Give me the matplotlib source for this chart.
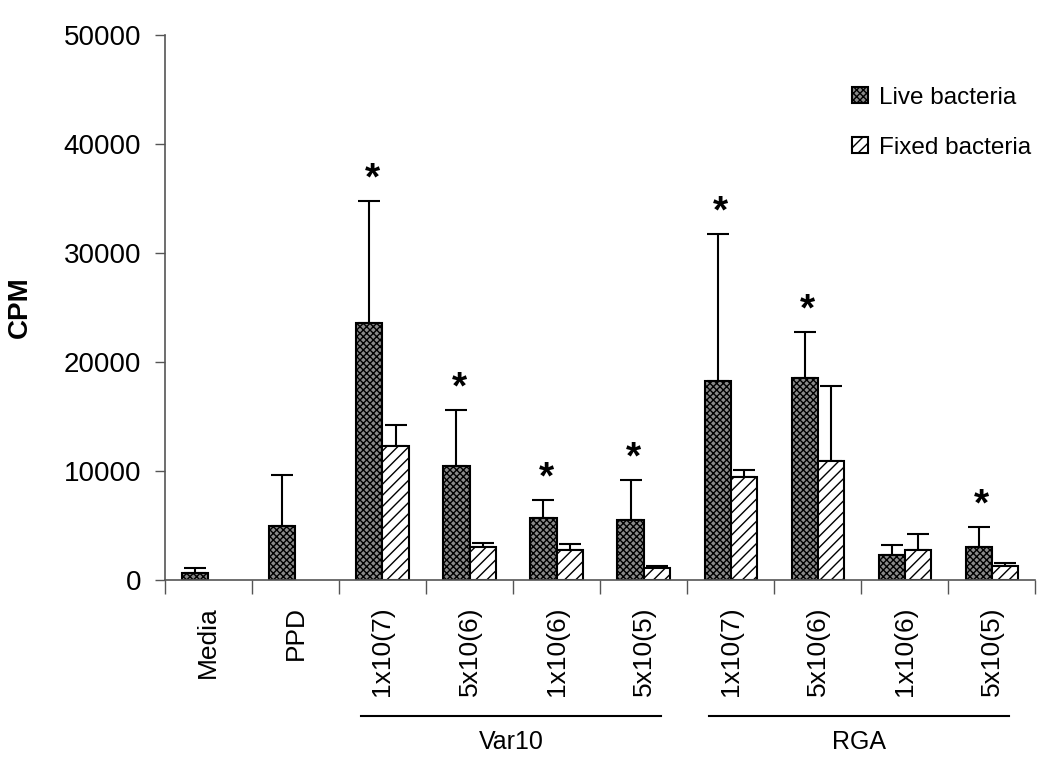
import matplotlib
matplotlib.use("Agg")
import matplotlib.pyplot as plt
import numpy as np

plt.rcParams['font.family'] = ['Liberation Sans', 'DejaVu Sans']
plt.rcParams['hatch.linewidth'] = 1.0

categories = ["Media", "PPD", "1x10(7)", "5x10(6)", "1x10(6)", "5x10(5)",
              "1x10(7)", "5x10(6)", "1x10(6)", "5x10(5)"]
live = [640, 4950, 23580, 10460, 5690, 5500, 18260, 18530, 2290, 3030]
live_err_top = [1100, 9630, 34770, 15600, 7340, 9170, 31740, 22750, 3210, 4860]
fixed = [np.nan, np.nan, 12290, 3030, 2750, 1100, 9450, 10920, 2750, 1280]
fixed_err_top = [np.nan, np.nan, 14220, 3400, 3300, 1280, 10090, 17800, 4220, 1560]
significant = [False, False, True, True, True, True, True, True, False, True]
groups = [("Var10", 2, 5), ("RGA", 6, 9)]
yticks = [0, 10000, 20000, 30000, 40000, 50000]

fig = plt.figure(figsize=(10.5, 7.62), dpi=100)
ax = fig.add_axes([0.157, 0.239, 0.829, 0.715])

x = np.arange(len(categories))
w = 0.3
live_arr = np.array(live, float)
fixed_arr = np.array(fixed, float)
le = np.array(live_err_top) - live_arr
fe = np.array(fixed_err_top) - fixed_arr

ax.bar(x - w/2, live_arr, w, facecolor='#8a8a8a', edgecolor='black', hatch='xxxxx',
       linewidth=1.5, label='Live bacteria', zorder=2)
ax.bar(x + w/2, fixed_arr, w, facecolor='white', edgecolor='black', hatch='///',
       linewidth=1.5, label='Fixed bacteria', zorder=2)
ax.errorbar(x - w/2, live_arr, yerr=[np.zeros_like(le), le], fmt='none', ecolor='black',
            elinewidth=1.5, capsize=8, capthick=1.5, zorder=1)
mask = ~np.isnan(fixed_arr)
ax.errorbar((x + w/2)[mask], fixed_arr[mask], yerr=[np.zeros(mask.sum()), fe[mask]], fmt='none',
            ecolor='black', elinewidth=1.5, capsize=8, capthick=1.5, zorder=1)

for i, s in enumerate(significant):
    if s:
        ax.text(x[i] - w/2 + 0.03, live_err_top[i] + 2000, '*', ha='center', va='center',
                fontsize=28, fontweight='bold')

ax.set_xlim(-0.5, len(categories) - 0.5)
ax.set_ylim(0, 50000)
ax.set_yticks(yticks)
ax.set_yticklabels([str(v) for v in yticks], fontsize=20)
ax.set_xticks(x)
ax.set_xticklabels(categories, rotation=90, fontsize=19)
ax.set_xticks(np.arange(len(categories) + 1) - 0.5, minor=True)
ax.tick_params(axis='x', which='major', length=0, pad=19)
ax.tick_params(axis='x', which='minor', length=10, width=1, color='#555555', direction='out')
ax.tick_params(axis='y', length=7, width=1, color='#555555', direction='out', pad=10)
for sp in ['top', 'right']:
    ax.spines[sp].set_visible(False)
for sp in ['left', 'bottom']:
    ax.spines[sp].set_color('#555555')
    ax.spines[sp].set_linewidth(1.2)

ax.set_ylabel('CPM', fontsize=20, fontweight='bold', labelpad=22)

trans = ax.get_xaxis_transform()
for name, a, b in groups:
    ax.plot([a - 0.25, b + 0.2], [-0.2495, -0.2495], color='black', lw=1.5,
            transform=trans, clip_on=False)
    ax.text((a + b) / 2 - 0.02, -0.297, name, ha='center', va='center', fontsize=18,
            transform=trans)

ax.legend(loc='upper right', bbox_to_anchor=(1.02, 0.945), frameon=False, fontsize=17.5,
          handlelength=0.65, handleheight=0.65, labelspacing=1.15, handletextpad=0.45)

fig.savefig('out.png', dpi=100)
